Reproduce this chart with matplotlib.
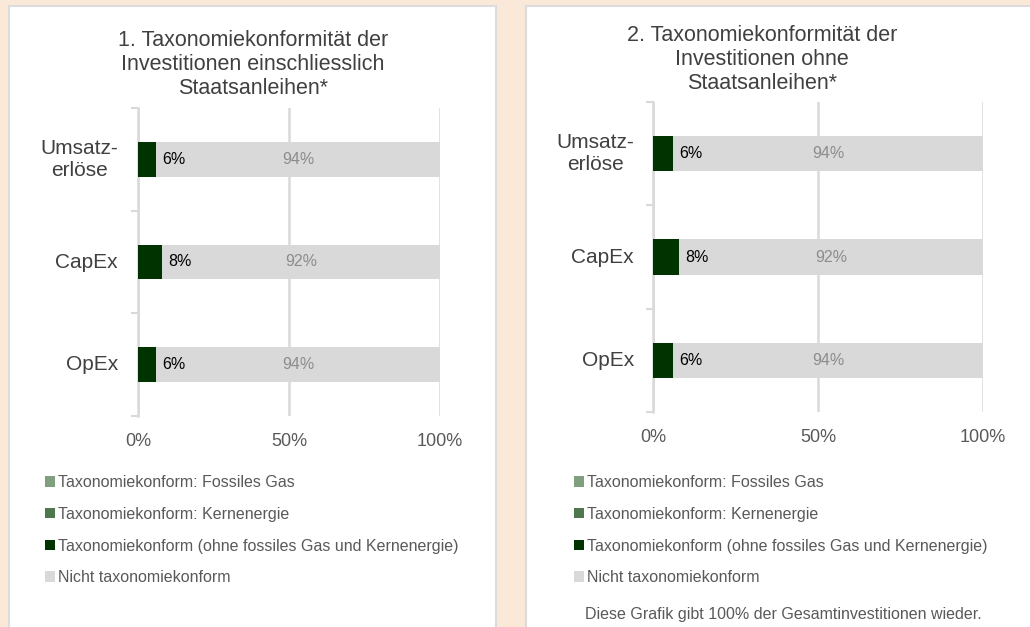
import matplotlib
matplotlib.use("Agg")
import matplotlib.pyplot as plt
from matplotlib.patches import Rectangle, Patch
from matplotlib.transforms import blended_transform_factory

plt.rcParams['font.family'] = ['Liberation Sans', 'DejaVu Sans']

# --- data -------------------------------------------------------------
categories = ["Umsatz-\nerlöse", "CapEx", "OpEx"]
series_names = [
    "Taxonomiekonform: Fossiles Gas",
    "Taxonomiekonform: Kernenergie",
    "Taxonomiekonform (ohne fossiles Gas und Kernenergie)",
    "Nicht taxonomiekonform",
]
# chart 1: incl. sovereign bonds
incl_gas = [0, 0, 0]
incl_nuclear = [0, 0, 0]
incl_aligned = [6, 8, 6]
incl_not = [94, 92, 94]
# chart 2: excl. sovereign bonds
excl_gas = [0, 0, 0]
excl_nuclear = [0, 0, 0]
excl_aligned = [6, 8, 6]
excl_not = [94, 92, 94]

titles = [
    "1. Taxonomiekonformität der\nInvestitionen einschliesslich\nStaatsanleihen*",
    "2. Taxonomiekonformität der\nInvestitionen ohne\nStaatsanleihen*",
]
x_ticks = [0, 50, 100]
x_ticklabels = ["0%", "50%", "100%"]
footnote = "Diese Grafik gibt 100% der Gesamtinvestitionen wieder."

# --- style ------------------------------------------------------------
colors = ["#7F9F7F", "#4E774E", "#003300", "#D9D9D9"]
BG = "#FAE9D8"
TXT = "#404040"
GRID = "#D9D9D9"

W, H = 1030, 627
fig = plt.figure(figsize=(W / 100, H / 100), dpi=100, facecolor=BG)


def fx(px):
    return px / W


def fy(py):
    return 1 - py / H


# white panels
for (x0, x1) in [(9, 496), (526, 1040)]:
    fig.patches.append(Rectangle((fx(x0), fy(640)), fx(x1 - x0), (640 - 6) / H,
                                 transform=fig.transFigure, facecolor="white",
                                 edgecolor="#DCDCDC", linewidth=1.5, zorder=-5))


def draw_panel(ax_box, title, title_xy, data, legend_xy, label_rx, note_xy=None):
    left, right, top, bottom = ax_box
    ax = fig.add_axes([fx(left), fy(bottom), fx(right - left), (bottom - top) / H])
    ax.set_facecolor("none")
    n = len(categories)
    ypos = list(range(n))
    gas, nuc, aligned, notal = data
    starts = [0] * n
    handles = []
    for vals, col, name in zip([gas, nuc, aligned, notal], colors, series_names):
        ax.barh(ypos, vals, left=starts, height=0.34, color=col, zorder=3,
                linewidth=0)
        handles.append(Patch(facecolor=col, edgecolor="none", label=name))
        starts = [s + v for s, v in zip(starts, vals)]

    # value labels
    for i in range(n):
        a = aligned[i]
        ax.annotate(f"{a}%", (a, ypos[i]), xytext=(4.5, 0), textcoords="offset points",
                    ha="left", va="center", fontsize=11.5, color="#000000", zorder=5)
        ax.text(a + notal[i] / 2, ypos[i], f"{notal[i]}%", ha="center", va="center",
                fontsize=11.5, color="#8C8C8C", zorder=5)

    ax.set_xlim(0, 100)
    ax.set_ylim(n - 0.5, -0.5)
    ax.set_yticks(ypos)
    ax.set_yticklabels([])
    ax.set_yticks([-0.5 + k for k in range(n + 1)], minor=True)
    ax.tick_params(axis="y", which="major", length=0)
    ax.tick_params(axis="y", which="minor", length=5, width=1.5, color=GRID)
    ax.set_xticks(x_ticks)
    ax.set_xticklabels(x_ticklabels, fontsize=13, color="#595959")
    ax.tick_params(axis="x", length=0, pad=12.5)
    ax.grid(axis="x", color=GRID, linewidth=1.8, zorder=0)
    for s in ["top", "right", "bottom"]:
        ax.spines[s].set_visible(False)
    ax.spines["left"].set_color(GRID)
    ax.spines["left"].set_linewidth(1.8)

    # category labels, right-aligned left of the axis
    tr = blended_transform_factory(fig.transFigure, ax.transData)
    for i, cat in enumerate(categories):
        ax.text(fx(label_rx), ypos[i], cat, transform=tr,
                fontsize=15, color=TXT, ha="right", va="center",
                multialignment="center", linespacing=1.2)

    fig.text(fx(title_xy[0]), fy(title_xy[1]), title, ha="center", va="top",
             fontsize=15.5, color=TXT, linespacing=1.2)

    fig.legend(handles=handles, loc="upper left",
               bbox_to_anchor=(fx(legend_xy[0]), fy(legend_xy[1])),
               frameon=False, fontsize=11.5, labelcolor="#595959",
               handlelength=0.65, handleheight=0.65, handletextpad=0.15,
               labelspacing=1.05, borderaxespad=0, borderpad=0)
    if note_xy:
        fig.text(fx(note_xy[0]), fy(note_xy[1]), footnote, ha="left", va="center",
                 fontsize=11.5, color="#595959")
    return ax


ax1 = draw_panel((138, 440, 108, 416), titles[0], (253, 30),
                 (incl_gas, incl_nuclear, incl_aligned, incl_not), (45, 475), 118)
ax2 = draw_panel((653, 983, 102, 412), titles[1], (762, 25),
                 (excl_gas, excl_nuclear, excl_aligned, excl_not), (574, 475), 634,
                 note_xy=(585, 615))

fig.savefig("out.png", dpi=100, facecolor=BG)
